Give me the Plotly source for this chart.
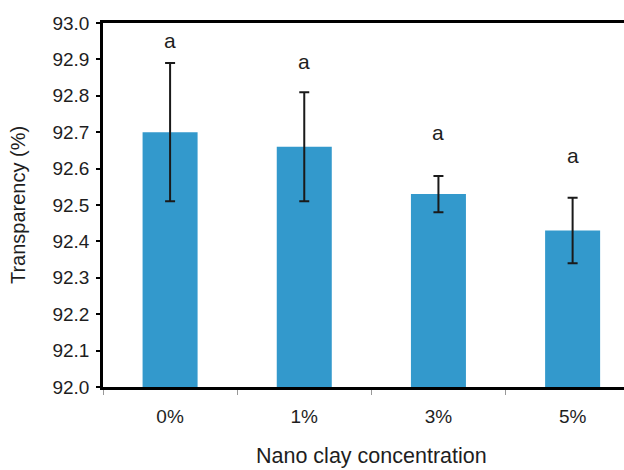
import plotly.graph_objects as go

categories = ["0%", "1%", "3%", "5%"]
transparency = [92.70, 92.66, 92.53, 92.43]
sd = [0.19, 0.15, 0.05, 0.09]
letters = ["a", "a", "a", "a"]
letter_y = [92.953, 92.893, 92.70, 92.637]
y_ticks = [92.0, 92.1, 92.2, 92.3, 92.4, 92.5, 92.6, 92.7, 92.8, 92.9, 93.0]

FONT = "Liberation Sans, Arial, Helvetica, sans-serif"
TXT = "#1e1e1e"

fig = go.Figure()
fig.add_trace(go.Bar(
    x=categories, y=transparency, width=0.41,
    marker=dict(color="#3399cc", line=dict(width=0)),
    error_y=dict(type="data", array=sd, visible=True, color="#1a1a1a", thickness=2, width=5),
))

for c, l, ly in zip(categories, letters, letter_y):
    fig.add_annotation(x=c, y=ly, text=l, showarrow=False,
                       font=dict(family=FONT, size=21, color=TXT))

fig.add_annotation(x=1.5, xref="x", y=-0.19, yref="paper", yanchor="middle",
                   text="Nano clay concentration", showarrow=False,
                   font=dict(family=FONT, size=21.5, color=TXT))

fig.update_layout(
    width=624, height=470,
    margin=dict(l=103, r=0, t=23, b=83),
    paper_bgcolor="white", plot_bgcolor="white",
    showlegend=False,
    font=dict(family=FONT, size=19, color=TXT),
    xaxis=dict(
        type="category", range=[-0.5, 3.383],
        showline=True, linecolor="#000", linewidth=2.5, mirror=True,
        ticks="outside", tickson="boundaries", ticklen=5, tickcolor="#999", tickwidth=1,
        showgrid=False, tickfont=dict(size=19, family=FONT, color=TXT),
        ticklabelstandoff=10,
    ),
    yaxis=dict(
        range=[92.0, 93.0], tickvals=y_ticks, ticktext=[f"{v:.1f}" for v in y_ticks],
        showline=True, linecolor="#000", linewidth=2.5,
        ticks="outside", ticklen=4, tickcolor="#000", tickwidth=1.5,
        showgrid=False, zeroline=False, tickfont=dict(size=19, family=FONT, color=TXT),
        ticklabelstandoff=3,
        title=dict(text="Transparency (%)", font=dict(size=20, family=FONT, color=TXT), standoff=22),
    ),
)

fig.write_html("out.html", config={"displayModeBar": False},
               post_script="document.body.style.margin='0';document.body.style.padding='0';")
